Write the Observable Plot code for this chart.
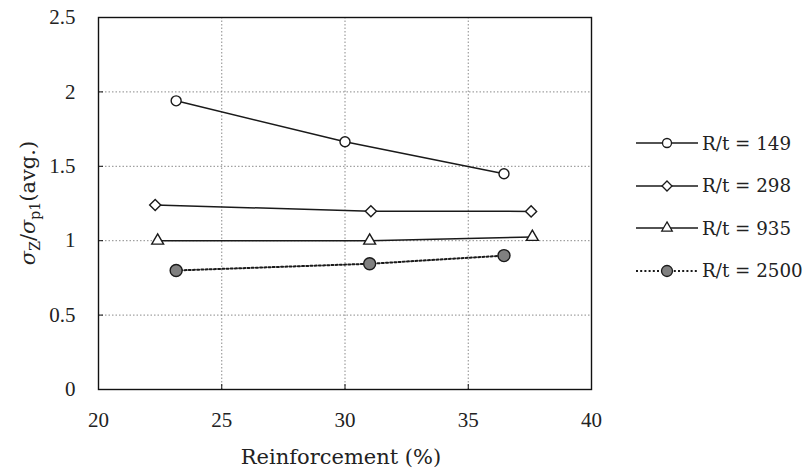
<!DOCTYPE html>
<html><head><meta charset="utf-8">
<script src="https://cdn.jsdelivr.net/npm/d3@7"></script>
<script src="https://cdn.jsdelivr.net/npm/@observablehq/plot@0.6"></script>
<style>
body{margin:0;background:#fff;}
#wrap{position:relative;width:806px;height:473px;overflow:hidden;}
#legend{position:absolute;left:636px;top:122px;font-family:"DejaVu Serif","Liberation Serif",serif;font-size:18.3px;color:#222;}
.row{display:flex;align-items:center;height:42.5px;white-space:nowrap;}
.row svg{display:block;margin-right:4px;}
</style></head><body><div id="wrap"></div>
<script>
// ---- data ----
const xTicks = [20, 25, 30, 35, 40];
const yTicks = [0, 0.5, 1, 1.5, 2, 2.5];
const seriesNames = ["R/t = 149", "R/t = 298", "R/t = 935", "R/t = 2500"];
const reinf149 = [23.15, 30.0, 36.45];
const ratio149 = [1.94, 1.665, 1.45];
const reinf298 = [22.3, 31.05, 37.55];
const ratio298 = [1.24, 1.198, 1.197];
const reinf935 = [22.4, 31.0, 37.6];
const ratio935 = [1.0, 1.0, 1.025];
const reinf2500 = [23.15, 31.0, 36.45];
const ratio2500 = [0.80, 0.845, 0.90];

const xValues = [reinf149, reinf298, reinf935, reinf2500];
const yValues = [ratio149, ratio298, ratio935, ratio2500];
const symbols = ["circle", "diamond2", "triangle", "circle"];
const radii = [5, 5, 4.4, 6];
const fills = ["#fff", "#fff", "#fff", "#808080"];
const dashes = [null, null, null, "2,2.2"];
const lineWidths = [1.5, 1.5, 1.5, 2];

const series = seriesNames.map((name, i) => ({
  name, symbol: symbols[i], r: radii[i], fill: fills[i], dash: dashes[i], lw: lineWidths[i],
  rows: xValues[i].map((x, j) => ({series: name, x, y: yValues[i][j]}))
}));

const fmt = d => String(d);
const marks = [
  Plot.gridX([25, 30, 35], {stroke: "#8a8a8a", strokeOpacity: 1, strokeDasharray: "1.5,2", strokeWidth: 1}),
  Plot.gridY([0.5, 1, 1.5, 2], {stroke: "#8a8a8a", strokeOpacity: 1, strokeDasharray: "1.5,2", strokeWidth: 1}),
  // inward tick marks
  Plot.axisX(xTicks, {anchor: "bottom", tickSize: 5, dy: -5, tickFormat: () => "", stroke: "#111"}),
  Plot.axisY(yTicks, {anchor: "left", tickSize: 5, dx: 5, tickFormat: () => "", stroke: "#111"}),
  // tick labels
  Plot.axisX(xTicks, {anchor: "bottom", tickSize: 0, tickPadding: 23, label: null, fill: "#222", tickFormat: fmt}),
  Plot.axisY(yTicks, {anchor: "left", tickSize: 0, tickPadding: 23, label: null, fill: "#222", tickFormat: fmt}),
  Plot.frame({stroke: "#111", strokeWidth: 1.4})
];
for (const s of series) {
  marks.push(Plot.line(s.rows, {x: "x", y: "y", stroke: "#1a1a1a", strokeWidth: s.lw, strokeDasharray: s.dash}));
}
for (const s of series) {
  marks.push(Plot.dot(s.rows, {x: "x", y: "y", symbol: s.symbol, r: s.r, fill: s.fill, stroke: "#1a1a1a", strokeWidth: 1.4}));
}

const chart = Plot.plot({
  width: 806, height: 473,
  marginLeft: 98, marginRight: 215, marginTop: 17, marginBottom: 84,
  x: {domain: [20, 40], label: null},
  y: {domain: [0, 2.5], label: null},
  style: {fontFamily: "Liberation Serif", fontSize: "21px", background: "#fff"},
  marks
});
document.getElementById("wrap").appendChild(chart);

// axis titles
const svg = d3.select(chart);
const yl = svg.append("text")
  .attr("transform", "translate(35,203) rotate(-90)")
  .attr("text-anchor", "middle")
  .attr("font-family", "DejaVu Serif, Liberation Serif, serif").attr("font-size", 21).attr("fill", "#222");
yl.append("tspan").attr("font-style", "italic").text("σ");
yl.append("tspan").attr("font-size", 14).attr("dy", 5).text("Z");
yl.append("tspan").attr("dy", -5).text("/");
yl.append("tspan").attr("font-style", "italic").text("σ");
yl.append("tspan").attr("font-size", 14).attr("dy", 5).text("p1");
yl.append("tspan").attr("dy", -5).text("(avg.)");

svg.append("text")
  .attr("x", 341).attr("y", 464)
  .attr("text-anchor", "middle")
  .attr("font-family", "DejaVu Serif, Liberation Serif, serif").attr("font-size", 21).attr("fill", "#222")
  .text("Reinforcement (%)");

// legend (HTML)
const legend = d3.select("#wrap").append("div").attr("id", "legend");
for (const s of series) {
  const row = legend.append("div").attr("class", "row");
  const sw = row.append("svg").attr("width", 62).attr("height", 16);
  sw.append("line").attr("x1", 0).attr("x2", 62).attr("y1", 8).attr("y2", 8)
    .attr("stroke", "#1a1a1a").attr("stroke-width", s.dash ? 2 : 1.5)
    .attr("stroke-dasharray", s.dash);
  const symType = {circle: d3.symbolCircle, diamond2: d3.symbolDiamond2, triangle: d3.symbolTriangle}[s.symbol];
  sw.append("path")
    .attr("transform", "translate(31,8)")
    .attr("d", d3.symbol(symType, Math.PI * (s.r - 0.5) * (s.r - 0.5))())
    .attr("fill", s.fill).attr("stroke", "#1a1a1a").attr("stroke-width", 1.3);
  row.append("span").text(s.name);
}
</script>
</body></html>
